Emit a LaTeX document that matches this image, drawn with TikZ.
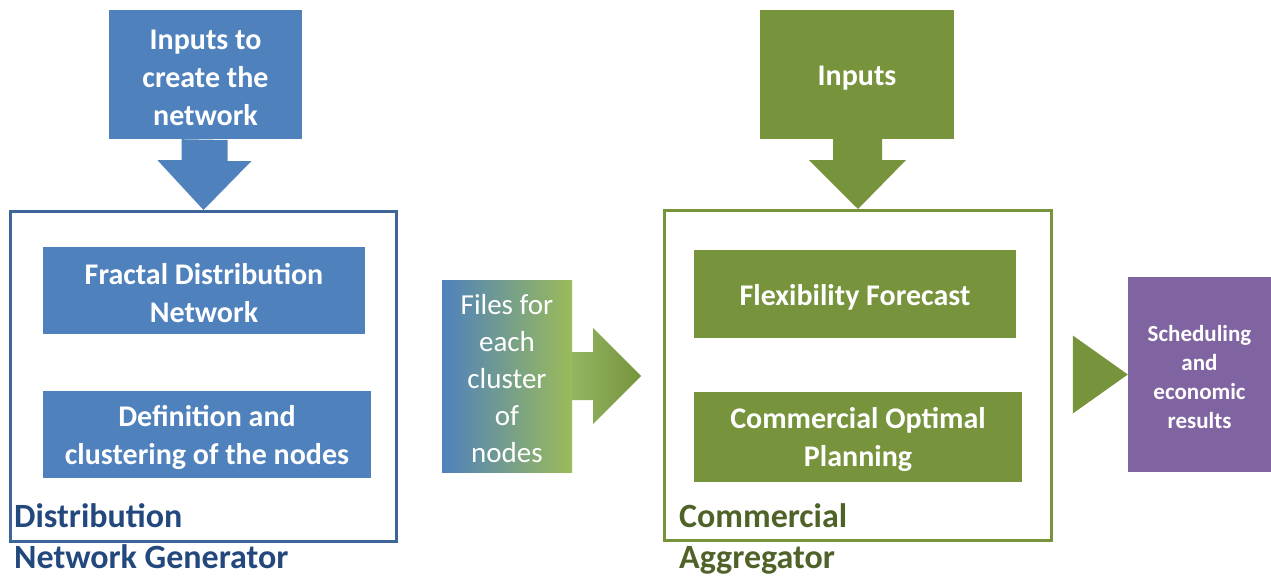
\documentclass[tikz,border=0pt]{standalone}
\usepackage{fontspec}
\setmainfont{Carlito}
\usetikzlibrary{positioning}
\definecolor{accblue}{HTML}{4F81BD}
\definecolor{frameblue}{HTML}{3E6597}
\definecolor{darkblue}{HTML}{23487D}
\definecolor{accgreen}{HTML}{77933C}
\definecolor{lightgreen}{HTML}{9BBB59}
\definecolor{darkgreen}{HTML}{4F6228}
\definecolor{accpurple}{HTML}{8064A2}
% extra room above the first line, so text sits a little lower in its box
\newcommand{\padtop}{\rule{0pt}{0.9em}}

\begin{document}
\begin{tikzpicture}[
  x=1pt, y=-1pt,
  blk/.style   = {inner sep=0pt, align=center, text=white,
                  font=\bfseries\fontsize{30}{38}\selectfont},
  bluebox/.style  = {blk, fill=accblue},
  greenbox/.style = {blk, fill=accgreen},
  frame/.style = {draw, line width=3pt, inner sep=0pt},
  lbl/.style   = {inner sep=0pt, anchor=north west, align=left,
                  font=\bfseries\fontsize{34}{41}\selectfont},
]
\useasboundingbox (0,0) rectangle (1271,578);
% left part: network generator
\node[frame, draw=frameblue, minimum width=386, minimum height=330] (dng) at (203.5,376.5) {};
\node[bluebox, minimum width=193, minimum height=129] (inA) at (205.5,74.5) {\padtop Inputs to\\create the\\network};
\node[bluebox, minimum width=322, minimum height=87] (fract) at (204,290.5) {\padtop Fractal Distribution\\Network};
\node[bluebox, minimum width=328, minimum height=87] (clust) at (207,434.5) {\padtop Definition and\\clustering of the nodes};
\node[lbl, text=darkblue] (dnglbl) at (14,503) {Distribution\\Network Generator};
% middle: files
\node[blk, font=\fontsize{29}{37}\selectfont, left color=accblue, right color=lightgreen,
      minimum width=130, minimum height=192] (files) at (507,376) {\padtop Files for\\each\\cluster\\of\\nodes};
% right part: aggregator
\node[frame, draw=accgreen, minimum width=387, minimum height=330] (cag) at (858,375.5) {};
\node[greenbox, minimum width=194, minimum height=129] (inB) at (857,74.5) {\padtop Inputs};
\node[greenbox, minimum width=322, minimum height=88] (flex) at (855,294) {\padtop Flexibility Forecast};
\node[greenbox, minimum width=328, minimum height=90] (plan) at (858,437) {\padtop Commercial Optimal\\Planning};
\node[lbl, text=darkgreen] (caglbl) at (679,503) {Commercial\\Aggregator};
% results
\node[blk, fill=accpurple, font=\bfseries\fontsize{23}{29}\selectfont,
      minimum width=143, minimum height=195] (res) at (1199.5,374.5) {\padtop Scheduling\\and\\economic\\results};
% block arrows
\fill[accblue] (inA.south) ++(-24,0) -- ++(0,21) -- ++(-24,0) -- (dng.north)
  -- ++(48,-49) -- ++(-24,0) -- ++(0,-21) -- cycle;
\fill[accgreen] (inB.south) ++(-24,0) -- ++(0,21) -- ++(-24,0) -- (cag.north)
  -- ++(48,-49) -- ++(-24,0) -- ++(0,-21) -- cycle;
\shade[left color=lightgreen!90!accblue, right color=accgreen]
  (files.east) ++(0,-24) -- ++(21,0) -- ++(0,-24) -- ++(48,48) -- ++(-48,48)
  -- ++(0,-24) -- ++(-21,0) -- cycle;
\fill[accgreen] (res.west) -- ++(-55,-39) -- ++(0,78) -- cycle;
\end{tikzpicture}
\end{document}
